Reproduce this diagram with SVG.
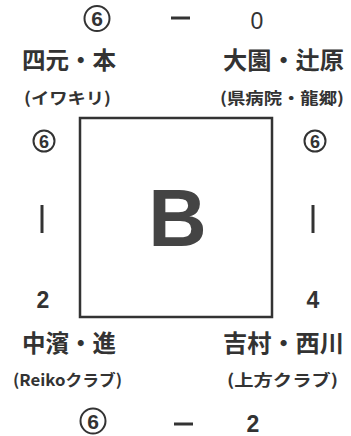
<svg xmlns="http://www.w3.org/2000/svg" width="351" height="436" viewBox="0 0 351 436">
<style>
.t{font-family:"Noto Sans CJK JP","Noto Sans",sans-serif;fill:#333;dominant-baseline:central}
.name{font-size:24px;font-weight:bold}
.sub{font-size:16px;font-weight:bold}
.ring{fill:none;stroke:#333;stroke-width:2}
.six{font-family:"Liberation Sans",Arial,sans-serif;font-weight:bold;fill:#333;text-anchor:middle}
.num{font-family:"Liberation Sans",Arial,sans-serif;font-size:23px;font-weight:bold;fill:#333;text-anchor:middle}
.dash{stroke:#333;stroke-width:3}
.box{fill:none;stroke:#333;stroke-width:2.5}
</style>
<rect width="351" height="436" fill="#fff"/>
<g id="score-top">
<circle class="ring" cx="97" cy="18.5" r="12.5"/>
<text class="six" x="97" y="26" font-size="21">6</text>
<line class="dash" x1="171" y1="18" x2="190" y2="18"/>
<text class="num" x="257" y="29" style="font-weight:normal">0</text>
</g>
<g id="team-top-left">
<text class="t name" x="22" y="58" textLength="94" lengthAdjust="spacingAndGlyphs">四元・本</text>
<text class="t sub" x="24" y="97" textLength="87" lengthAdjust="spacingAndGlyphs">(イワキリ)</text>
</g>
<g id="team-top-right">
<text class="t name" x="223" y="58" textLength="121" lengthAdjust="spacingAndGlyphs">大園・辻原</text>
<text class="t sub" x="220" y="97" textLength="124" lengthAdjust="spacingAndGlyphs">(県病院・龍郷)</text>
</g>
<g id="block-B">
<rect class="box" x="80" y="118" width="192" height="199"/>
<text x="177.5" y="246" font-family="Liberation Sans, Arial, sans-serif" font-weight="bold" font-size="81" fill="#444" text-anchor="middle">B</text>
</g>
<g id="score-left">
<circle class="ring" cx="44" cy="141" r="10.5"/>
<text class="six" x="44" y="147.5" font-size="18">6</text>
<line class="dash" x1="42" y1="205" x2="42" y2="233"/>
<text class="num" x="43" y="308">2</text>
</g>
<g id="score-right">
<circle class="ring" cx="315" cy="141" r="10.5"/>
<text class="six" x="315" y="147.5" font-size="18">6</text>
<line class="dash" x1="313" y1="205" x2="313" y2="233"/>
<text class="num" x="313" y="308">4</text>
</g>
<g id="team-bottom-left">
<text class="t name" x="22" y="341" textLength="94" lengthAdjust="spacingAndGlyphs">中濱・進</text>
<text class="t sub" x="13" y="379" textLength="109" lengthAdjust="spacingAndGlyphs">(Reikoクラブ)</text>
</g>
<g id="team-bottom-right">
<text class="t name" x="223" y="341" textLength="121" lengthAdjust="spacingAndGlyphs">吉村・西川</text>
<text class="t sub" x="227" y="379" textLength="111" lengthAdjust="spacingAndGlyphs">(上方クラブ)</text>
</g>
<g id="score-bottom">
<circle class="ring" cx="93" cy="421" r="12.5"/>
<text class="six" x="93" y="428.5" font-size="21">6</text>
<line class="dash" x1="174" y1="424" x2="193" y2="424"/>
<text class="num" x="253" y="432">2</text>
</g>
</svg>
